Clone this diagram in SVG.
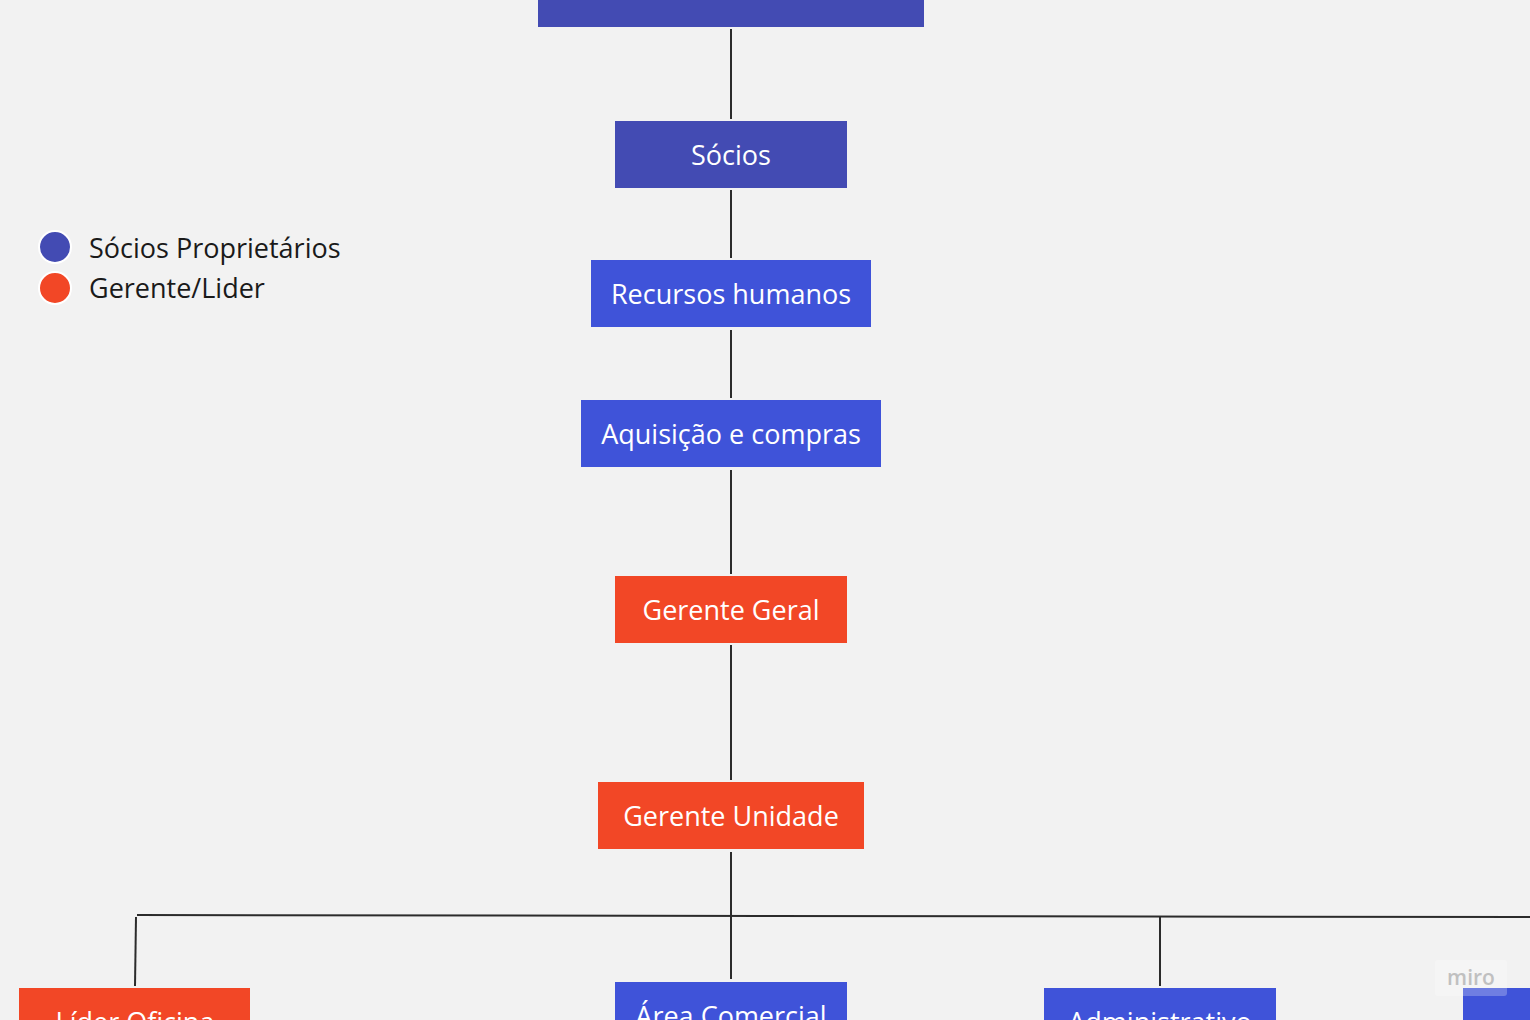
<svg xmlns="http://www.w3.org/2000/svg" width="1530" height="1020" viewBox="0 0 1530 1020">
<style>
.lbl{font-family:"Open Sans","Noto Sans","Liberation Sans",sans-serif;font-size:27px;fill:#ffffff;text-anchor:middle}
.leg{font-family:"Open Sans","Noto Sans","Liberation Sans",sans-serif;font-size:27px;fill:#1a1a1a}
.dk{fill:#434BB3}
.bl{fill:#3F53D9}
.or{fill:#F24726}
.con line{stroke:#2b2b2b;stroke-width:2;fill:none}
</style>
<rect width="1530" height="1020" fill="#F2F2F2"/>
<g id="connectors" class="con">
<line x1="731" y1="29" x2="731" y2="119"/>
<line x1="731" y1="190" x2="731" y2="258"/>
<line x1="731" y1="330" x2="731" y2="398"/>
<line x1="731" y1="470" x2="731" y2="574"/>
<line x1="731" y1="645" x2="731" y2="780"/>
<line x1="731" y1="852" x2="731" y2="916"/>
<line x1="137" y1="915" x2="1530" y2="917"/>
<line x1="136" y1="917" x2="135" y2="986"/>
<line x1="731" y1="916" x2="731" y2="979"/>
<line x1="1160" y1="917" x2="1160" y2="986"/>
</g>
<g id="legend">
<circle cx="55" cy="247" r="16" fill="#434BB3" stroke="#ffffff" stroke-width="2"/>
<text class="leg" x="89" y="258">Sócios Proprietários</text>
<circle cx="55" cy="288" r="16" fill="#F24726" stroke="#ffffff" stroke-width="2"/>
<text class="leg" x="89" y="298">Gerente/Lider</text>
</g>
<g id="n-top"><rect class="dk" x="538" y="-40" width="386" height="67"/></g>
<g id="n-socios"><rect class="dk" x="615" y="121" width="232" height="67"/><text class="lbl" x="731" y="165">Sócios</text></g>
<g id="n-rh"><rect class="bl" x="591" y="260" width="280" height="67"/><text class="lbl" x="731" y="304">Recursos humanos</text></g>
<g id="n-aq"><rect class="bl" x="581" y="400" width="300" height="67"/><text class="lbl" x="731" y="444">Aquisição e compras</text></g>
<g id="n-gg"><rect class="or" x="615" y="576" width="232" height="67"/><text class="lbl" x="731" y="620">Gerente Geral</text></g>
<g id="n-gu"><rect class="or" x="598" y="782" width="266" height="67"/><text class="lbl" x="731" y="826">Gerente Unidade</text></g>
<g id="n-lo"><rect class="or" x="19" y="988" width="231" height="67"/><text class="lbl" x="135" y="1032">Líder Oficina</text></g>
<g id="n-ac"><rect class="bl" x="615" y="982" width="232" height="67"/><text class="lbl" x="731" y="1026">Área Comercial</text></g>
<g id="n-adm"><rect class="bl" x="1044" y="988" width="232" height="67"/><text class="lbl" x="1160" y="1032">Administrativo</text></g>
<g id="n-right"><rect class="bl" x="1463" y="988" width="100" height="67"/></g>
<g id="watermark">
<rect x="1435" y="960" width="72" height="36" rx="3" fill="#ffffff" fill-opacity="0.25"/>
<text x="1471" y="985" font-family="'Open Sans','Noto Sans',sans-serif" font-size="21" font-weight="600" fill="#c0c0c0" text-anchor="middle">miro</text>
</g>
</svg>
